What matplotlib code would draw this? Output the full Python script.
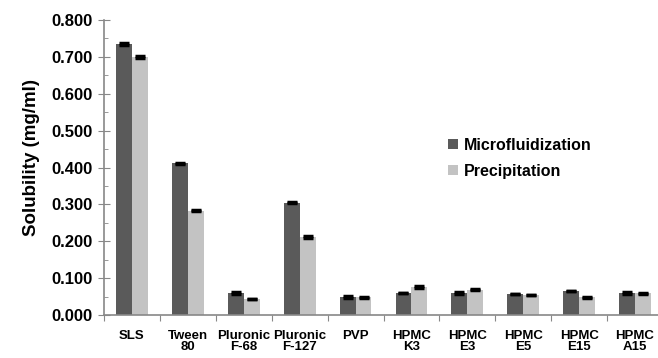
import matplotlib
matplotlib.use("Agg")
import matplotlib.pyplot as plt
import numpy as np
from matplotlib.ticker import MultipleLocator, FormatStrFormatter

categories = ["SLS", "Tween\n80", "Pluronic\nF-68", "Pluronic\nF-127", "PVP",
              "HPMC\nK3", "HPMC\nE3", "HPMC\nE5", "HPMC\nE15", "HPMC\nA15"]
micro = [0.734, 0.411, 0.060, 0.305, 0.049, 0.059, 0.060, 0.056, 0.065, 0.060]
precip = [0.700, 0.283, 0.043, 0.211, 0.048, 0.076, 0.069, 0.053, 0.048, 0.059]
micro_err = [0.003, 0.002, 0.002, 0.002, 0.002, 0.0, 0.002, 0.0, 0.001, 0.002]
precip_err = [0.003, 0.002, 0.0, 0.003, 0.002, 0.002, 0.002, 0.0, 0.002, 0.002]

plt.rcParams['font.family'] = ['Liberation Sans', 'DejaVu Sans']
plt.rcParams['font.weight'] = 'bold'

fig = plt.figure(figsize=(6.58, 3.58), dpi=100)
ax = fig.add_axes([104/658, 1-315/358, 559/658, 295/358])

x = np.arange(len(categories))
w = 0.285
ekw = dict(elinewidth=1.0, capthick=2.5, ecolor='black')
ax.bar(x - w/2, micro, w, color='#5a5a5a', yerr=micro_err, capsize=3.5,
       error_kw=ekw, label='Microfluidization')
ax.bar(x + w/2, precip, w, color='#c3c3c3', yerr=precip_err, capsize=3.5,
       error_kw=ekw, label='Precipitation')

ax.set_xlim(-0.5, len(categories) - 0.5)
ax.set_ylim(0, 0.8)
ax.yaxis.set_major_locator(MultipleLocator(0.1))
ax.yaxis.set_minor_locator(MultipleLocator(0.05))
ax.yaxis.set_major_formatter(FormatStrFormatter('%.3f'))
ax.set_xticks(np.arange(len(categories) + 1) - 0.5)
ax.set_xticklabels([])
ax.set_xticks(x, minor=True)
ax.set_xticklabels(categories, minor=True, fontsize=9.5, fontweight='bold',
                   linespacing=0.88)
ax.tick_params(axis='x', which='minor', length=0, pad=11)
ax.tick_params(axis='x', which='major', direction='out', length=4, color='#888888')
ax.tick_params(axis='y', which='major', direction='inout', length=8, color='#888888',
               labelsize=12, pad=4)
ax.tick_params(axis='y', which='minor', direction='in', length=3, color='#888888')
for lbl in ax.get_yticklabels():
    lbl.set_fontweight('bold')

for s in ['top', 'right']:
    ax.spines[s].set_visible(False)
for s in ['left', 'bottom']:
    ax.spines[s].set_color('#888888')
    ax.spines[s].set_linewidth(1.2)

ax.set_ylabel('Solubility (mg/ml)', fontsize=13.5, fontweight='bold')
ax.yaxis.set_label_coords(-0.115, 0.535)

leg = ax.legend(loc='upper left', bbox_to_anchor=(0.59, 0.65), frameon=False,
                fontsize=11.5, handlelength=0.6, handleheight=0.6, handletextpad=0.4,
                labelspacing=0.7)
for t in leg.get_texts():
    t.set_fontweight('bold')

fig.savefig('out.png', dpi=100)
